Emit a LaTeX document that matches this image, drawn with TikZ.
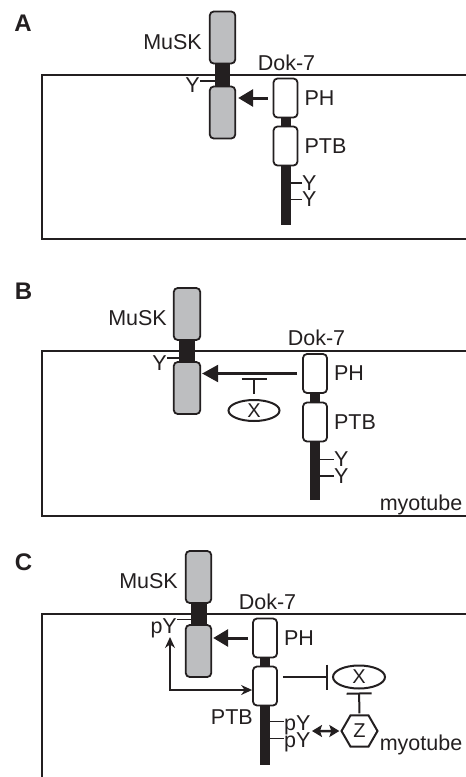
\documentclass[tikz,border=0pt]{standalone}
\usepackage{fontspec}
\setmainfont{Liberation Sans}
\usepackage{xcolor}
\usepackage{tikz}
\usetikzlibrary{arrows.meta,positioning,shapes.geometric,calc}
\definecolor{ink}{HTML}{231F20}
\definecolor{mgray}{HTML}{BDBEC0}

\tikzset{
  lbl/.style={font=\fontsize{21.5pt}{24pt}\selectfont, text=ink, inner sep=0pt, text depth=0pt},
  plabel/.style={font=\fontsize{24pt}{27pt}\selectfont\bfseries, text=ink, inner sep=0pt, text depth=0pt},
  cell/.style={draw=ink, line width=1.5pt},
  musk/.style={draw=ink, fill=mgray, line width=1.8pt, rounded corners=4pt,
    minimum width=25.5pt, minimum height=52pt, inner sep=0pt},
  dom/.style={draw=ink, fill=white, line width=1.8pt, rounded corners=4pt,
    minimum width=24pt, minimum height=39pt, inner sep=0pt},
  tmseg/.style={ink, line width=15.5pt},
  linker/.style={ink, line width=10pt},
  tick/.style={ink, line width=1.5pt},
  bigarrow/.style={ink, line width=3pt, -{Triangle[length=15pt,width=17pt]}},
  thinarrow/.style={ink, line width=2.4pt, -{Triangle[length=16pt,width=17pt]}},
  inh/.style={ink, line width=2pt, -{Bar[width=25pt]}},
  bidir/.style={ink, line width=1.4pt, {Stealth[length=11pt,width=10pt]}-{Stealth[length=11pt,width=10pt]}},
  swap/.style={ink, line width=2.5pt, {Stealth[length=10pt,width=12pt,inset=2pt]}-{Stealth[length=10pt,width=12pt,inset=2pt]}},
  blob/.style={draw=ink, line width=2pt, ellipse, minimum width=51pt, minimum height=21pt, inner sep=0pt,
    font=\fontsize{20pt}{24pt}\selectfont, text=ink},
  hexa/.style={draw=ink, line width=2pt, regular polygon, regular polygon sides=6, minimum size=36pt,
    inner sep=0pt, font=\fontsize{20pt}{24pt}\selectfont, text=ink}
}

\begin{document}
\begin{tikzpicture}[x=1pt,y=-1pt]
  \useasboundingbox (0,0) rectangle (466,777);

  % ---------- Panel A ----------
  \node[plabel] (pA) at (23,23) {A};
  \draw[cell] (470,75) -- (42,75) -- (42,239) -- (470,239);

  % MuSK
  \node[musk] (muskA1) at (222.5,37.5) {};
  \node[musk] (muskA2) at (222.5,112.5) {};
  \draw[tmseg] (muskA1.south) -- (muskA2.north);
  \node[lbl,anchor=east] (muskAl) at (202,42) {MuSK};
  \coordinate (tkA) at (222.5,81);
  \node[lbl,anchor=east] (yAm) at (200,85.5) {Y};
  \draw[tick] (tkA) -- (tkA -| yAm.east);

  % Dok-7
  \node[dom] (phA) at (285.5,98) {};
  \node[dom] (ptbA) at (285.5,146) {};
  \coordinate (stemA) at (285.5,225);
  \draw[linker] (phA.south) -- (ptbA.north);
  \foreach \yy/\nm in {183/1,199.5/2} {
    \node[lbl,anchor=west] (yA\nm) at (302,\yy) {Y};
    \draw[tick] (yA\nm.west) -- (yA\nm.west -| stemA);
  }
  \draw[linker] (ptbA.south) -- (stemA);
  \node[lbl] (dokA) at (286.5,62.5) {Dok-7};
  \node[lbl,right=6pt of phA] (phAl) {PH};
  \node[lbl,right=6pt of ptbA] (ptbAl) {PTB};

  \draw[bigarrow,shorten <=5pt,shorten >=2pt] (phA.west) -- (phA.west -| muskA2.east);

  % ---------- Panel B ----------
  \node[plabel] (pB) at (23.5,291.5) {B};
  \draw[cell] (470,351) -- (42,351) -- (42,516) -- (470,516);

  % MuSK
  \node[musk,minimum width=26.5pt] (muskB1) at (187,314) {};
  \node[musk,minimum width=26.5pt] (muskB2) at (187,388) {};
  \draw[tmseg,line width=16pt] (muskB1.south) -- (muskB2.north);
  \node[lbl,anchor=east] (muskBl) at (167,318) {MuSK};
  \coordinate (tkB) at (187,358);
  \node[lbl,anchor=east] (yBm) at (167,363.5) {Y};
  \draw[tick] (tkB) -- (tkB -| yBm.east);

  % Dok-7
  \node[dom] (phB) at (315,373.5) {};
  \node[dom] (ptbB) at (315,422) {};
  \coordinate (stemB) at (315,500);
  \draw[linker] (phB.south) -- (ptbB.north);
  \foreach \yy/\nm in {459.5/1,476/2} {
    \node[lbl,anchor=west] (yB\nm) at (334,\yy) {Y};
    \draw[tick] (yB\nm.west) -- (yB\nm.west -| stemB);
  }
  \draw[linker] (ptbB.south) -- (stemB);
  \node[lbl] (dokB) at (316.5,338) {Dok-7};
  \node[lbl,right=6pt of phB] (phBl) {PH};
  \node[lbl,right=6pt of ptbB] (ptbBl) {PTB};

  % X blocks the PH -> MuSK step
  \node[blob] (xB) at (254,410.5) {X};
  \draw[thinarrow,shorten <=5pt,shorten >=1pt] (phB.west) -- (phB.west -| muskB2.east);
  \draw[inh,shorten <=5pt,shorten >=4pt] (xB.north) -- (xB.north |- phB.west);

  \node[lbl] (myoB) at (421,502.5) {myotube};

  % ---------- Panel C ----------
  \node[plabel] (pC) at (23.5,562.5) {C};
  \draw[cell] (470,614) -- (42,614) -- (42,780);

  % MuSK
  \node[musk] (muskC1) at (198.5,577) {};
  \node[musk] (muskC2) at (198.5,651) {};
  \draw[tmseg,line width=16pt] (muskC1.south) -- (muskC2.north);
  \node[lbl,anchor=east] (muskCl) at (178,580.5) {MuSK};
  \coordinate (tkC) at (198.5,619.5);
  \node[lbl,anchor=east] (pyCm) at (177,626) {pY};
  \draw[tick] (tkC) -- (tkC -| pyCm.east);

  % Dok-7
  \node[dom] (phC) at (265,638) {};
  \node[dom] (ptbC) at (265,686) {};
  \coordinate (stemC) at (265,765);
  \draw[linker] (phC.south) -- (ptbC.north);
  \foreach \yy/\nm in {723/1,740/2} {
    \node[lbl,anchor=west] (pyC\nm) at (284,\yy) {pY};
    \draw[tick] ([yshift=1.5pt]pyC\nm.west) -- ([yshift=1.5pt]pyC\nm.west -| stemC);
  }
  \draw[linker] (ptbC.south) -- (stemC);
  \node[lbl] (dokC) at (267.5,601.5) {Dok-7};
  \node[lbl,right=6pt of phC] (phCl) {PH};
  \node[lbl,anchor=north east] (ptbCl) at (253,709) {PTB};

  \draw[bigarrow,shorten <=4pt,shorten >=1pt] (phC.west) -- (phC.west -| muskC2.east);

  % PTB <-> MuSK pY loop
  \coordinate (loopC) at (170,637);
  \draw[bidir] (loopC) |- ([yshift=-4pt]ptbC.west);

  % X and Z
  \node[blob,minimum width=52pt,minimum height=23pt] (xC) at (359,677) {X};
  \node[hexa] (zC) at (359.5,731) {Z};
  \draw[inh,shorten <=5pt,shorten >=4pt] (xC.west -| ptbC.east) -- (xC.west);
  \draw[inh,shorten <=1pt,shorten >=3pt] (zC.north) -- (xC.south);
  \coordinate (pyC) at (312,731);
  \draw[swap,shorten >=1pt] (pyC) -- (zC.west);

  \node[lbl] (myoC) at (421,742.5) {myotube};
\end{tikzpicture}
\end{document}
